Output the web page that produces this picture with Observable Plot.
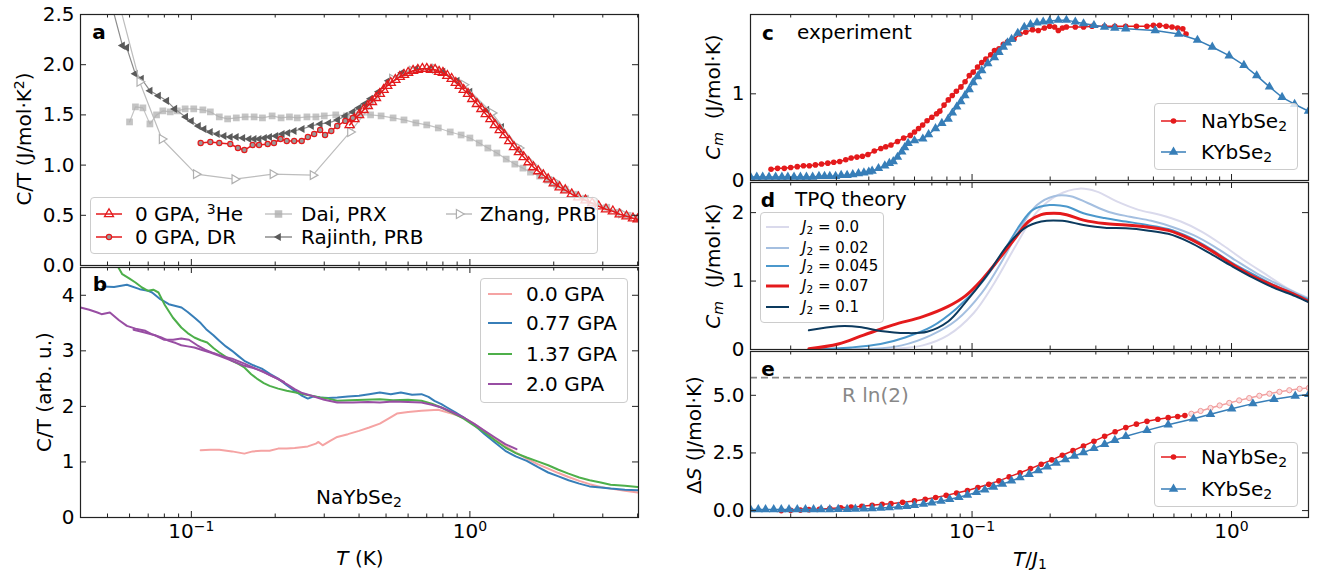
<!DOCTYPE html>
<html><head><meta charset="utf-8">
<script src="https://cdn.jsdelivr.net/npm/d3@7"></script>
<script src="https://cdn.jsdelivr.net/npm/@observablehq/plot@0.6"></script>
<style>
html,body{margin:0;padding:0;background:#fff}
#fig{position:relative;width:1322px;height:574px;overflow:hidden;font-family:"DejaVu Sans";color:#000}
.pw{position:absolute}
.pw svg{display:block;background:transparent;max-width:none}
.lab{position:absolute;white-space:nowrap;line-height:1;font-family:"DejaVu Sans"}
.lab sub{font-size:0.7em;vertical-align:-0.22em;line-height:0}
.lab sup{font-size:0.7em;vertical-align:0.5em;line-height:0}
.leg{position:absolute;box-sizing:border-box;border:1px solid #cccccc;border-radius:4px;background:rgba(255,255,255,0.8)}
</style></head><body><div id="fig"></div>
<script>
// ---------------- data ----------------
// panel a : C/T (J/mol K^2) vs T (K)
const he3 = [[0.370,1.40],[0.385,1.46],[0.400,1.50],[0.415,1.55],[0.430,1.59],[0.445,1.63],[0.460,1.67],[0.475,1.71],[0.490,1.75],[0.505,1.79],[0.520,1.82],[0.540,1.85],[0.560,1.88],[0.580,1.90],[0.600,1.92],[0.625,1.94],[0.650,1.95],[0.675,1.96],[0.700,1.96],[0.725,1.95],[0.750,1.95],[0.775,1.93],[0.800,1.92],[0.830,1.89],[0.860,1.86],[0.890,1.82],[0.920,1.79],[0.950,1.75],[0.985,1.71],[1.020,1.66],[1.060,1.61],[1.100,1.56],[1.140,1.51],[1.185,1.46],[1.230,1.40],[1.280,1.35],[1.330,1.30],[1.385,1.24],[1.440,1.18],[1.500,1.13],[1.560,1.08],[1.625,1.03],[1.690,0.98],[1.760,0.94],[1.835,0.90],[1.910,0.86],[2.000,0.82],[2.100,0.78],[2.200,0.75],[2.320,0.71],[2.450,0.68],[2.600,0.65],[2.750,0.62],[2.900,0.59],[3.080,0.56],[3.260,0.54],[3.450,0.51],[3.650,0.49],[3.850,0.47],[4.000,0.46]];
const dr = [[0.108,1.22],[0.117,1.23],[0.126,1.22],[0.138,1.21],[0.147,1.17],[0.155,1.15],[0.166,1.20],[0.175,1.20],[0.188,1.21],[0.198,1.22],[0.209,1.26],[0.220,1.24],[0.234,1.24],[0.249,1.24],[0.262,1.28],[0.276,1.31],[0.290,1.35],[0.302,1.30],[0.318,1.34],[0.334,1.39],[0.357,1.44],[0.380,1.47]];
const dai = [[0.060,1.43],[0.063,1.58],[0.067,1.57],[0.071,1.41],[0.075,1.50],[0.079,1.54],[0.084,1.53],[0.089,1.54],[0.095,1.56],[0.102,1.56],[0.110,1.55],[0.117,1.53],[0.126,1.48],[0.135,1.46],[0.145,1.47],[0.156,1.48],[0.168,1.48],[0.180,1.47],[0.195,1.49],[0.210,1.47],[0.225,1.48],[0.240,1.47],[0.260,1.48],[0.280,1.48],[0.300,1.49],[0.330,1.50],[0.360,1.49],[0.400,1.50],[0.440,1.50],[0.480,1.49],[0.530,1.47],[0.580,1.45],[0.640,1.42],[0.700,1.40],[0.770,1.37],[0.850,1.33],[0.930,1.30],[1.000,1.27],[1.080,1.22],[1.160,1.17],[1.250,1.12],[1.350,1.06],[1.450,1.01],[1.550,0.97],[1.650,0.93],[1.780,0.89],[1.900,0.85],[2.050,0.80],[2.200,0.76],[2.400,0.71],[2.600,0.67],[2.800,0.63],[3.100,0.58],[3.400,0.53],[3.700,0.50],[4.000,0.47]];
const rajinth = [[0.050,2.75],[0.0566,2.19],[0.0586,2.17],[0.0629,1.91],[0.0662,1.86],[0.0711,1.74],[0.0762,1.69],[0.0816,1.64],[0.0872,1.56],[0.0954,1.48],[0.100,1.44],[0.106,1.39],[0.111,1.36],[0.117,1.33],[0.124,1.31],[0.131,1.29],[0.138,1.28],[0.145,1.28],[0.153,1.27],[0.161,1.26],[0.168,1.26],[0.175,1.26],[0.183,1.27],[0.191,1.28],[0.201,1.29],[0.212,1.31],[0.222,1.32],[0.234,1.34],[0.250,1.36],[0.270,1.39],[0.290,1.41],[0.311,1.42],[0.335,1.45],[0.357,1.49],[0.380,1.53],[0.400,1.57],[0.420,1.61],[0.440,1.66],[0.470,1.73],[0.510,1.84],[0.570,1.92],[0.640,1.96],[0.720,1.96],[0.800,1.93],[0.900,1.84],[1.000,1.73],[1.150,1.55],[1.300,1.38],[1.500,1.16]];
const zhang = [[0.054,2.70],[0.0652,1.83],[0.0784,1.26],[0.104,0.91],[0.143,0.86],[0.196,0.91],[0.273,0.90],[0.372,1.33],[0.526,1.86],[0.620,1.94],[0.750,1.96],[0.950,1.80],[1.200,1.52],[1.500,1.17],[2.000,0.84],[2.700,0.64],[3.500,0.52]];
// panel b : C/T (arb. u.) vs T (K)
const p000 = [[0.108,1.21],[0.117,1.22],[0.126,1.22],[0.140,1.19],[0.155,1.15],[0.166,1.19],[0.178,1.20],[0.191,1.20],[0.205,1.24],[0.220,1.24],[0.235,1.25],[0.262,1.28],[0.280,1.33],[0.286,1.36],[0.296,1.30],[0.315,1.38],[0.334,1.45],[0.365,1.50],[0.400,1.56],[0.435,1.62],[0.475,1.69],[0.510,1.78],[0.547,1.87],[0.600,1.90],[0.670,1.92],[0.770,1.94],[0.860,1.87],[0.950,1.80],[1.040,1.68],[1.130,1.55],[1.230,1.42],[1.340,1.29],[1.460,1.17],[1.600,1.06],[1.750,0.96],[1.910,0.88],[2.080,0.80],[2.260,0.73],[2.470,0.66],[2.690,0.60],[2.950,0.55],[3.200,0.52],[3.600,0.48],[4.000,0.45]];
const p077 = [[0.048,4.16],[0.0528,4.15],[0.0587,4.19],[0.0652,4.11],[0.0700,4.08],[0.0723,4.05],[0.0774,3.93],[0.0830,3.84],[0.0922,3.78],[0.0970,3.70],[0.1025,3.60],[0.1080,3.50],[0.1130,3.39],[0.1200,3.28],[0.1260,3.18],[0.1330,3.08],[0.1400,3.00],[0.1480,2.90],[0.1550,2.82],[0.1670,2.74],[0.1790,2.68],[0.1920,2.58],[0.2050,2.50],[0.2200,2.38],[0.2350,2.28],[0.2480,2.20],[0.2620,2.14],[0.2750,2.18],[0.2900,2.16],[0.3100,2.15],[0.3340,2.16],[0.3650,2.18],[0.4000,2.19],[0.4350,2.22],[0.4750,2.25],[0.5200,2.22],[0.5650,2.25],[0.6200,2.21],[0.6700,2.22],[0.7100,2.17],[0.7460,2.10],[0.7900,2.04],[0.8280,1.98],[0.8900,1.89],[0.9500,1.80],[1.0400,1.66],[1.1300,1.50],[1.2300,1.35],[1.3400,1.20],[1.4600,1.10],[1.6000,1.02],[1.7500,0.91],[1.9100,0.81],[2.0800,0.74],[2.2600,0.67],[2.4700,0.61],[2.6900,0.56],[2.9500,0.54],[3.2000,0.52],[3.6000,0.50],[4.0000,0.49]];
const p137 = [[0.0540,4.55],[0.0565,4.38],[0.0600,4.30],[0.0630,4.23],[0.0665,4.14],[0.0699,4.08],[0.0730,4.10],[0.0762,4.05],[0.0800,3.84],[0.0858,3.60],[0.0920,3.42],[0.0970,3.32],[0.1025,3.24],[0.1080,3.19],[0.1140,3.15],[0.1200,3.05],[0.1260,2.97],[0.1330,2.89],[0.1400,2.82],[0.1480,2.76],[0.1550,2.70],[0.1640,2.58],[0.1730,2.49],[0.1820,2.42],[0.1910,2.37],[0.2050,2.32],[0.2200,2.28],[0.2370,2.25],[0.2530,2.22],[0.2700,2.19],[0.2900,2.16],[0.3100,2.14],[0.3340,2.10],[0.3700,2.11],[0.4200,2.12],[0.4750,2.13],[0.5300,2.11],[0.6000,2.12],[0.6700,2.10],[0.7300,2.05],[0.7900,1.98],[0.8700,1.88],[0.9500,1.78],[1.0400,1.65],[1.1300,1.53],[1.2300,1.39],[1.3400,1.26],[1.4600,1.16],[1.6000,1.08],[1.7500,1.01],[1.9100,0.94],[2.0800,0.86],[2.2600,0.79],[2.4700,0.72],[2.6900,0.67],[2.9500,0.63],[3.2000,0.59],[3.6000,0.57],[4.0000,0.55]];
const p200 = [[0.0400,3.78],[0.0430,3.74],[0.0460,3.69],[0.0476,3.66],[0.0510,3.69],[0.0550,3.55],[0.0587,3.45],[0.0630,3.40],[0.0684,3.36],[0.0720,3.30],[0.0780,3.24],[0.0830,3.18],[0.0880,3.14],[0.0920,3.10],[0.0970,3.08],[0.1025,3.06],[0.1100,3.01],[0.1170,2.97],[0.1260,2.91],[0.1350,2.85],[0.1450,2.79],[0.1550,2.73],[0.1670,2.69],[0.1790,2.64],[0.1920,2.56],[0.2050,2.49],[0.2200,2.40],[0.2350,2.31],[0.2500,2.24],[0.2700,2.19],[0.3000,2.12],[0.3340,2.07],[0.3800,2.07],[0.4300,2.08],[0.4750,2.07],[0.5300,2.09],[0.6000,2.08],[0.6700,2.07],[0.7300,2.03],[0.7900,1.98],[0.8700,1.89],[0.9500,1.80],[1.0400,1.68],[1.1300,1.56],[1.2300,1.44],[1.3400,1.32],[1.4700,1.23]];
const p200b = [[0.0620,3.38],[0.0680,3.33],[0.0740,3.28],[0.0800,3.20],[0.0860,3.20],[0.0920,3.22],[0.0980,3.20],[0.1050,3.10],[0.1120,3.02],[0.1200,2.96],[0.1300,2.90],[0.1400,2.86],[0.1550,2.77],[0.1700,2.68],[0.1850,2.60],[0.2000,2.52],[0.2150,2.44]];
// panel c : Cm (J/mol K) vs T/J1, experiment
const naC = [[0.0168,0.13],[0.0178,0.14],[0.0189,0.14],[0.0200,0.15],[0.0212,0.16],[0.0224,0.17],[0.0236,0.17],[0.0249,0.18],[0.0263,0.19],[0.0278,0.20],[0.0293,0.21],[0.0309,0.22],[0.0326,0.24],[0.0342,0.26],[0.0360,0.27],[0.0378,0.28],[0.0397,0.30],[0.0420,0.34],[0.0445,0.37],[0.0465,0.39],[0.0487,0.41],[0.0516,0.45],[0.0545,0.49],[0.0578,0.52],[0.0600,0.56],[0.0622,0.60],[0.0645,0.64],[0.0671,0.69],[0.0700,0.73],[0.0730,0.77],[0.0751,0.80],[0.0780,0.87],[0.0810,0.93],[0.0839,0.98],[0.0870,1.03],[0.0906,1.08],[0.0940,1.14],[0.0976,1.21],[0.1010,1.25],[0.1050,1.31],[0.1090,1.36],[0.1130,1.40],[0.1180,1.45],[0.1220,1.50],[0.1270,1.52],[0.1320,1.57],[0.1370,1.60],[0.1450,1.63],[0.1530,1.69],[0.1610,1.71],[0.1710,1.74],[0.1800,1.73],[0.1900,1.76],[0.1990,1.78],[0.2080,1.77],[0.2150,1.73],[0.2230,1.76],[0.2310,1.77],[0.2500,1.77],[0.2690,1.77],[0.2900,1.78],[0.3240,1.78],[0.3550,1.78],[0.3910,1.78],[0.4300,1.78],[0.4720,1.78],[0.5000,1.79],[0.5280,1.79],[0.5600,1.78],[0.5900,1.77],[0.6200,1.76],[0.6490,1.75],[0.6680,1.69]];
const kC = [[0.0140,0.04],[0.0148,0.04],[0.0156,0.04],[0.0165,0.04],[0.0175,0.04],[0.0185,0.04],[0.0195,0.04],[0.0206,0.04],[0.0218,0.04],[0.0230,0.04],[0.0243,0.04],[0.0257,0.05],[0.0270,0.05],[0.0283,0.05],[0.0298,0.05],[0.0313,0.06],[0.0330,0.06],[0.0347,0.07],[0.0365,0.08],[0.0383,0.09],[0.0400,0.10],[0.0412,0.11],[0.0436,0.14],[0.0461,0.17],[0.0480,0.20],[0.0497,0.22],[0.0516,0.27],[0.0536,0.33],[0.0550,0.38],[0.0567,0.43],[0.0600,0.46],[0.0646,0.48],[0.0680,0.53],[0.0723,0.60],[0.0765,0.66],[0.0809,0.71],[0.0840,0.78],[0.0873,0.85],[0.0905,0.91],[0.0939,0.98],[0.0975,1.05],[0.1010,1.13],[0.1050,1.20],[0.1090,1.27],[0.1150,1.35],[0.1220,1.42],[0.1270,1.48],[0.1320,1.54],[0.1370,1.59],[0.1420,1.63],[0.1500,1.70],[0.1590,1.77],[0.1680,1.80],[0.1780,1.82],[0.1880,1.83],[0.1990,1.84],[0.2150,1.85],[0.2310,1.85],[0.2500,1.83],[0.2690,1.81],[0.2950,1.79],[0.3240,1.77],[0.3550,1.76],[0.3910,1.75],[0.5080,1.73],[0.6250,1.69],[0.7390,1.62],[0.8430,1.54],[0.9790,1.44],[1.1160,1.33],[1.2500,1.21],[1.4000,1.08],[1.5660,0.96],[1.7500,0.88],[1.9800,0.80]];
// panel d : TPQ theory, Cm vs T/J1 for several J2
const j2Labels = ["0.0","0.02","0.045","0.07","0.1"];
const tpq00 = [[0.0235,0.00],[0.0350,0.00],[0.0497,0.01],[0.0646,0.06],[0.0809,0.21],[0.1013,0.53],[0.1222,0.98],[0.1475,1.52],[0.1779,2.01],[0.2146,2.26],[0.2589,2.35],[0.3008,2.31],[0.3630,2.16],[0.4381,2.04],[0.5287,1.97],[0.6380,1.87],[0.7699,1.72],[0.9290,1.52],[1.1210,1.30],[1.3527,1.10],[1.6320,0.90],[1.9850,0.75]];
const tpq02 = [[0.0235,0.00],[0.0412,0.01],[0.0536,0.06],[0.0696,0.21],[0.0872,0.43],[0.1092,0.83],[0.1317,1.32],[0.1531,1.77],[0.1779,2.11],[0.2067,2.24],[0.2401,2.24],[0.2790,2.14],[0.3367,2.01],[0.4063,1.94],[0.4904,1.88],[0.5918,1.79],[0.7141,1.67],[0.8617,1.50],[1.0398,1.30],[1.2547,1.11],[1.5140,0.95],[1.7600,0.83],[1.9850,0.74]];
const tpq045 = [[0.0235,0.00],[0.0342,0.03],[0.0444,0.08],[0.0556,0.18],[0.0696,0.33],[0.0872,0.60],[0.1092,0.98],[0.1317,1.42],[0.1531,1.82],[0.1713,2.04],[0.1991,2.11],[0.2313,2.09],[0.2688,1.99],[0.3243,1.92],[0.3914,1.87],[0.4723,1.82],[0.5700,1.76],[0.6879,1.64],[0.8300,1.47],[1.0016,1.27],[1.2086,1.10],[1.4584,0.94],[1.7600,0.81],[1.9850,0.73]];
const tpq07 = [[0.0235,0.01],[0.0305,0.08],[0.0382,0.21],[0.0497,0.36],[0.0646,0.48],[0.0809,0.63],[0.0940,0.78],[0.1092,1.02],[0.1269,1.32],[0.1475,1.64],[0.1650,1.87],[0.1847,1.97],[0.2067,1.99],[0.2313,1.97],[0.2688,1.89],[0.3243,1.84],[0.3914,1.82],[0.4723,1.79],[0.5700,1.74],[0.6879,1.62],[0.8300,1.45],[1.0016,1.25],[1.2086,1.07],[1.4584,0.93],[1.7600,0.80],[1.9850,0.70]];
const tpq10 = [[0.0235,0.28],[0.0305,0.34],[0.0368,0.33],[0.0444,0.27],[0.0556,0.24],[0.0671,0.26],[0.0809,0.41],[0.0940,0.68],[0.1134,1.07],[0.1368,1.52],[0.1590,1.77],[0.1847,1.87],[0.2228,1.88],[0.2688,1.82],[0.3243,1.78],[0.3914,1.77],[0.4723,1.74],[0.5700,1.69],[0.6879,1.57],[0.8300,1.40],[1.0016,1.22],[1.2086,1.05],[1.4584,0.90],[1.7600,0.78],[1.9850,0.69]];
// panel e : entropy
const RLN2 = 8.314 * Math.LN2;
const naE = [[0.0184,0.00],[0.0200,0.01],[0.0218,0.02],[0.0235,0.04],[0.0258,0.06],[0.0283,0.09],[0.0312,0.12],[0.0342,0.15],[0.0376,0.19],[0.0412,0.23],[0.0450,0.27],[0.0487,0.30],[0.0540,0.36],[0.0600,0.42],[0.0660,0.49],[0.0724,0.57],[0.0795,0.66],[0.0872,0.76],[0.0960,0.87],[0.1053,1.00],[0.1160,1.14],[0.1269,1.29],[0.1390,1.46],[0.1531,1.64],[0.1680,1.82],[0.1847,2.01],[0.2030,2.20],[0.2228,2.40],[0.2450,2.60],[0.2688,2.80],[0.2950,3.01],[0.3243,3.22],[0.3560,3.42],[0.3914,3.60],[0.4300,3.75],[0.4723,3.87],[0.5200,3.96],[0.5700,4.03],[0.6200,4.08],[0.6610,4.12]];
const naEext = [[0.700,4.20],[0.760,4.32],[0.830,4.45],[0.900,4.56],[0.980,4.67],[1.070,4.78],[1.170,4.88],[1.280,4.98],[1.400,5.07],[1.530,5.15],[1.670,5.22],[1.830,5.28],[1.985,5.32]];
const kE = [[0.0140,0.05],[0.0150,0.05],[0.0160,0.05],[0.0172,0.05],[0.0184,0.05],[0.0197,0.05],[0.0212,0.05],[0.0228,0.05],[0.0245,0.05],[0.0262,0.05],[0.0283,0.05],[0.0305,0.06],[0.0330,0.06],[0.0355,0.07],[0.0383,0.08],[0.0412,0.09],[0.0445,0.11],[0.0480,0.13],[0.0520,0.16],[0.0560,0.19],[0.0600,0.23],[0.0650,0.28],[0.0700,0.34],[0.0760,0.41],[0.0820,0.49],[0.0890,0.58],[0.0960,0.68],[0.1040,0.79],[0.1120,0.90],[0.1210,1.02],[0.1310,1.15],[0.1420,1.29],[0.1531,1.43],[0.1660,1.58],[0.1800,1.74],[0.1950,1.90],[0.2110,2.06],[0.2290,2.21],[0.2480,2.37],[0.2688,2.52],[0.2950,2.70],[0.3243,2.88],[0.3550,3.05],[0.3914,3.22],[0.4723,3.48],[0.5700,3.72],[0.7140,3.98],[0.8300,4.18],[1.0016,4.42],[1.2086,4.64],[1.4584,4.83],[1.7600,4.97],[1.9850,5.04]];
// ticks
const xMajorTicks = [0.01, 0.1, 1, 10];
const xMinorTicks = [0.02,0.03,0.04,0.05,0.06,0.07,0.08,0.09,0.2,0.3,0.4,0.5,0.6,0.7,0.8,0.9,2,3,4];
const yTicksA = [0,0.5,1,1.5,2,2.5], yTicksB = [0,1,2,3,4], yTicksC = [0,1], yTicksD = [0,1,2], yTicksE = [0,2.5,5];

// ---------------- styling ----------------
const RED="#e41a1c", BLUE="#377eb8", GREEN="#4daf4a", PURPLE="#984ea3", PINK="#f5a3a3";
const J2COL = ["#dadaec","#a4bfe0","#4b98cc",RED,"#0c3a5e"];
const fig = document.getElementById("fig");
const NS = "http://www.w3.org/2000/svg";
const X = d=>d[0], Y = d=>d[1];

function panel(p) {
  const [L,T,W,H] = p.box, [fx0,fy0,fx1,fy1] = p.frame;
  const pw = fx1-fx0, ph = fy1-fy0;
  const inX = v => v >= p.x[0]*0.999 && v <= p.x[1]*1.001;
  const xMaj = xMajorTicks.filter(inX), xMin = xMinorTicks.filter(inX);
  const tk = {stroke:"#222", strokeWidth:1};
  const marks = [
    ...p.marks,
    Plot.tickX(xMaj, {x:d=>d, insetTop: ph-6, ...tk}),
    Plot.tickX(xMaj, {x:d=>d, insetBottom: ph-6, ...tk}),
    Plot.tickX(xMin, {x:d=>d, insetTop: ph-3.5, ...tk}),
    Plot.tickX(xMin, {x:d=>d, insetBottom: ph-3.5, ...tk}),
    Plot.tickY(p.yTicks, {y:d=>d, insetRight: pw-6, ...tk}),
    Plot.tickY(p.yTicks, {y:d=>d, insetLeft: pw-6, ...tk}),
    Plot.frame({stroke:"#222", strokeWidth:1.2}),
    Plot.axisY({ticks:p.yTicks, tickSize:0, tickPadding:6, tickFormat:p.yFormat, label:null})
  ];
  if (p.xLabels) marks.push(Plot.axisX({ticks:xMaj, tickSize:0, tickPadding:6, tickFormat:d=>"10^"+Math.round(Math.log10(d)), label:null}));
  const xs = {type:"log", domain:p.x};
  if (!p.xLabels) xs.axis = null;
  const svg = Plot.plot({
    width:W, height:H,
    marginLeft:fx0-L, marginRight:L+W-fx1, marginTop:fy0-T, marginBottom:T+H-fy1,
    x:xs, y:{domain:p.y},
    style:{background:"transparent", fontFamily:"DejaVu Sans", fontSize:"20px", color:"#000", overflow:"visible"},
    marks
  });
  svg.querySelectorAll("text").forEach(t => {
    const m = /^10\^(-?\d+)$/.exec(t.textContent);
    if (m) {
      while (t.firstChild) t.removeChild(t.firstChild);
      const a = document.createElementNS(NS,"tspan"); a.textContent = "10";
      const b = document.createElementNS(NS,"tspan"); b.setAttribute("dy","-0.5em"); b.setAttribute("font-size","14"); b.textContent = m[1].replace("-","\u2212");
      t.append(a,b);
    }
  });
  const wrap = document.createElement("div");
  wrap.className = "pw"; wrap.style.left = L+"px"; wrap.style.top = T+"px";
  wrap.appendChild(svg); fig.appendChild(wrap);
}

function label(html, x, y, o={}) {
  const d = document.createElement("div");
  d.className = "lab"; d.innerHTML = html;
  d.style.left = x+"px"; d.style.top = y+"px";
  d.style.fontSize = (o.size||20)+"px";
  if (o.color) d.style.color = o.color;
  if (o.bold) d.style.fontWeight = "bold";
  const tx = o.anchor==="left" ? "0" : "-50%";
  d.style.transform = `translate(${tx},-50%)` + (o.rotate ? " rotate(-90deg)" : "");
  fig.appendChild(d);
}

function markerSVG(m, cx, cy) {
  if (!m) return "";
  const f = m.fill||"none", s = m.stroke||"none", w = m.sw||1.2;
  if (m.shape==="circle") return `<circle cx="${cx}" cy="${cy}" r="${m.size/2}" fill="${f}" stroke="${s}" stroke-width="${w}"/>`;
  if (m.shape==="square") return `<rect x="${cx-m.size/2}" y="${cy-m.size/2}" width="${m.size}" height="${m.size}" fill="${f}" stroke="${s}" stroke-width="${w}" opacity="${m.op||1}"/>`;
  const sz = m.size, h = sz*Math.sqrt(3)/2, a = (m.rot||0)*Math.PI/180;
  const pts = [[0,-2*h/3],[sz/2,h/3],[-sz/2,h/3]].map(([x,y]) => [x*Math.cos(a)-y*Math.sin(a), x*Math.sin(a)+y*Math.cos(a)]).map(([x,y]) => `${(cx+x).toFixed(2)},${(cy+y).toFixed(2)}`).join(" ");
  return `<polygon points="${pts}" fill="${f}" stroke="${s}" stroke-width="${w}"/>`;
}

function legend(box, entries, o) {
  const [x0,y0,x1,y1] = box;
  const d = document.createElement("div"); d.className = "leg";
  Object.assign(d.style, {left:x0+"px", top:y0+"px", width:(x1-x0)+"px", height:(y1-y0)+"px"});
  fig.appendChild(d);
  for (const e of entries) {
    const hw = e.hx1 - e.hx0;
    const s = `<svg width="${hw+14}" height="18" style="position:absolute;left:${e.hx0-7}px;top:${e.y-9}px;overflow:visible">`
      + `<line x1="7" y1="9" x2="${hw+7}" y2="9" stroke="${e.stroke}" stroke-width="${e.sw||1.5}" stroke-opacity="${e.op||1}"/>`
      + markerSVG(e.marker, hw/2+7, 9) + `</svg>`;
    fig.insertAdjacentHTML("beforeend", s);
    label(e.html, e.tx, e.y, {size:o.size, anchor:"left"});
  }
}

// ---------------- panel a ----------------
panel({
  box:[0,0,660,266], frame:[80,14,638,265], x:[0.04,4.03], y:[0,2.5],
  yTicks:yTicksA, yFormat:d3.format(".1f"),
  marks:[
    Plot.line(dai, {x:X, y:Y, stroke:"#c4c4c4", strokeWidth:1.2, clip:true}),
    Plot.dot(dai, {x:X, y:Y, symbol:"square", r:3.8, fill:"#b0b0b0", fillOpacity:0.75, clip:true}),
    Plot.line(rajinth, {x:X, y:Y, stroke:"#8c8c8c", strokeWidth:1.2, clip:true}),
    Plot.dot(rajinth, {x:X, y:Y, symbol:"triangle", rotate:-90, r:3.0, fill:"#5a5a5a", clip:true}),
    Plot.line(zhang, {x:X, y:Y, stroke:"#bdbdbd", strokeWidth:1.2, clip:true}),
    Plot.dot(zhang, {x:X, y:Y, symbol:"triangle", rotate:90, r:3.3, fill:"white", stroke:"#b0b0b0", strokeWidth:1.2, clip:true}),
    Plot.line(he3, {x:X, y:Y, stroke:RED, strokeWidth:1.5, clip:true}),
    Plot.dot(he3, {x:X, y:Y, symbol:"triangle", r:3.4, fill:"none", stroke:RED, strokeWidth:1.3, clip:true}),
    Plot.line(dr, {x:X, y:Y, stroke:RED, strokeWidth:1.5, clip:true}),
    Plot.dot(dr, {x:X, y:Y, r:2.6, fill:"#9a9a9a", stroke:RED, strokeWidth:1.2, clip:true})
  ]
});
// ---------------- panel b ----------------
panel({
  box:[0,266,660,308], frame:[80,267,638,517], x:[0.04,4.03], y:[0,4.5],
  yTicks:yTicksB, yFormat:d3.format("d"), xLabels:true,
  marks:[
    Plot.line(p000, {x:X, y:Y, stroke:PINK, strokeWidth:2, clip:true}),
    Plot.line(p077, {x:X, y:Y, stroke:BLUE, strokeWidth:2, clip:true}),
    Plot.line(p137, {x:X, y:Y, stroke:GREEN, strokeWidth:2, clip:true}),
    Plot.line(p200, {x:X, y:Y, stroke:PURPLE, strokeWidth:2, clip:true}),
    Plot.line(p200b, {x:X, y:Y, stroke:PURPLE, strokeWidth:2, clip:true})
  ]
});
// ---------------- panel c ----------------
panel({
  box:[660,0,662,181], frame:[750,14,1308,180], x:[0.014,1.98], y:[0,1.915],
  yTicks:yTicksC, yFormat:d3.format("d"),
  marks:[
    Plot.line(naC, {x:X, y:Y, stroke:RED, strokeWidth:1.5, clip:true}),
    Plot.dot(naC, {x:X, y:Y, r:2.8, fill:RED, clip:true}),
    Plot.line(kC, {x:X, y:Y, stroke:BLUE, strokeWidth:1.5, clip:true}),
    Plot.dot(kC, {x:X, y:Y, symbol:"triangle", r:3.5, fill:BLUE, clip:true})
  ]
});
// ---------------- panel d ----------------
panel({
  box:[660,181,662,169], frame:[750,182,1308,349], x:[0.014,1.98], y:[0,2.44],
  yTicks:yTicksD, yFormat:d3.format("d"),
  marks:[
    Plot.line(tpq00, {x:X, y:Y, stroke:J2COL[0], strokeWidth:2, curve:"catmull-rom", clip:true}),
    Plot.line(tpq02, {x:X, y:Y, stroke:J2COL[1], strokeWidth:2, curve:"catmull-rom", clip:true}),
    Plot.line(tpq045, {x:X, y:Y, stroke:J2COL[2], strokeWidth:2, curve:"catmull-rom", clip:true}),
    Plot.line(tpq07, {x:X, y:Y, stroke:J2COL[3], strokeWidth:3, curve:"catmull-rom", clip:true}),
    Plot.line(tpq10, {x:X, y:Y, stroke:J2COL[4], strokeWidth:2, curve:"catmull-rom", clip:true})
  ]
});
// ---------------- panel e ----------------
panel({
  box:[660,350,662,224], frame:[750,351,1308,517], x:[0.014,1.98], y:[-0.3,6.9],
  yTicks:yTicksE, yFormat:d3.format(".1f"), xLabels:true,
  marks:[
    Plot.ruleY([RLN2], {stroke:"#888", strokeWidth:1.8, strokeDasharray:"7,4"}),
    Plot.line(naEext, {x:X, y:Y, stroke:"#f2a0a0", strokeWidth:1.5, clip:true}),
    Plot.dot(naEext, {x:X, y:Y, r:2.6, fill:"#fbe0e0", stroke:"#f09a9a", strokeWidth:1, clip:true}),
    Plot.line(naE, {x:X, y:Y, stroke:RED, strokeWidth:1.5, clip:true}),
    Plot.dot(naE, {x:X, y:Y, r:2.8, fill:RED, clip:true}),
    Plot.line(kE, {x:X, y:Y, stroke:BLUE, strokeWidth:1.5, clip:true}),
    Plot.dot(kE, {x:X, y:Y, symbol:"triangle", r:3.5, fill:BLUE, clip:true})
  ]
});

// ---------------- text ----------------
label("a", 99, 32, {bold:true});
label("b", 100, 284, {bold:true});
label("c", 768, 33, {bold:true});
label("experiment", 797, 32, {anchor:"left"});
label("d", 768, 200, {bold:true});
label("TPQ theory", 795, 199, {anchor:"left"});
label("e", 768, 369, {bold:true});
label("C/T (J/mol·K<sup>2</sup>)", 24, 139, {rotate:true});
label("C/T (arb. u.)", 44, 392, {rotate:true});
label("<i>C<sub>m</sub></i>&nbsp; (J/mol·K)", 713, 97, {rotate:true});
label("<i>C<sub>m</sub></i>&nbsp; (J/mol·K)", 713, 266, {rotate:true});
label("Δ<i>S</i> (J/mol·K)", 694, 435, {rotate:true});
label("<i>T</i> (K)", 360, 558);
label("<i>T</i>/<i>J</i><sub>1</sub>", 1030, 559);
label("NaYbSe<sub>2</sub>", 359, 497);
label("R ln(2)", 842, 395, {anchor:"left", color:"#888"});

// ---------------- legends ----------------
legend([90,197,598,254], [
  {html:"0 GPA, <sup>3</sup>He", y:214, hx0:96, hx1:122, tx:135, stroke:RED, marker:{shape:"tri", size:9, stroke:RED, fill:"none", sw:1.3}},
  {html:"0 GPA, DR", y:237, hx0:96, hx1:122, tx:135, stroke:RED, marker:{shape:"circle", size:5.2, stroke:RED, fill:"#9a9a9a"}},
  {html:"Dai, PRX", y:214, hx0:265, hx1:292, tx:301, stroke:"#c4c4c4", marker:{shape:"square", size:7.5, fill:"#b0b0b0", op:0.8}},
  {html:"Rajinth, PRB", y:237, hx0:265, hx1:292, tx:301, stroke:"#8c8c8c", marker:{shape:"tri", size:8, rot:-90, fill:"#5a5a5a"}},
  {html:"Zhang, PRB", y:214, hx0:446, hx1:472, tx:480, stroke:"#bdbdbd", marker:{shape:"tri", size:9, rot:90, fill:"white", stroke:"#b0b0b0"}}
], {size:20});
legend([480,278,628,403], [
  {html:"0.0 GPA", y:294, hx0:488, hx1:512, tx:526, stroke:PINK, sw:2},
  {html:"0.77 GPA", y:323, hx0:488, hx1:512, tx:526, stroke:BLUE, sw:2},
  {html:"1.37 GPA", y:354, hx0:488, hx1:512, tx:526, stroke:GREEN, sw:2},
  {html:"2.0 GPA", y:384, hx0:488, hx1:512, tx:526, stroke:PURPLE, sw:2}
], {size:20});
legend([1154,103,1298,170], [
  {html:"NaYbSe<sub>2</sub>", y:121, hx0:1161, hx1:1186, tx:1201, stroke:RED, marker:{shape:"circle", size:5.6, fill:RED}},
  {html:"KYbSe<sub>2</sub>", y:152, hx0:1161, hx1:1186, tx:1201, stroke:BLUE, marker:{shape:"tri", size:9.5, fill:BLUE}}
], {size:20});
legend([760,212,884,323], j2Labels.map((v,i) => ({
  html:`<i>J</i><sub>2</sub> = ${v}`, y:[227,248,266,286,307][i], hx0:766, hx1:789, tx:802,
  stroke:J2COL[i], sw: i===3 ? 3 : 2
})), {size:15});
legend([1154,442,1298,507], [
  {html:"NaYbSe<sub>2</sub>", y:457, hx0:1161, hx1:1186, tx:1201, stroke:RED, marker:{shape:"circle", size:5.6, fill:RED}},
  {html:"KYbSe<sub>2</sub>", y:489, hx0:1161, hx1:1186, tx:1201, stroke:BLUE, marker:{shape:"tri", size:9.5, fill:BLUE}}
], {size:20});
</script></body></html>
